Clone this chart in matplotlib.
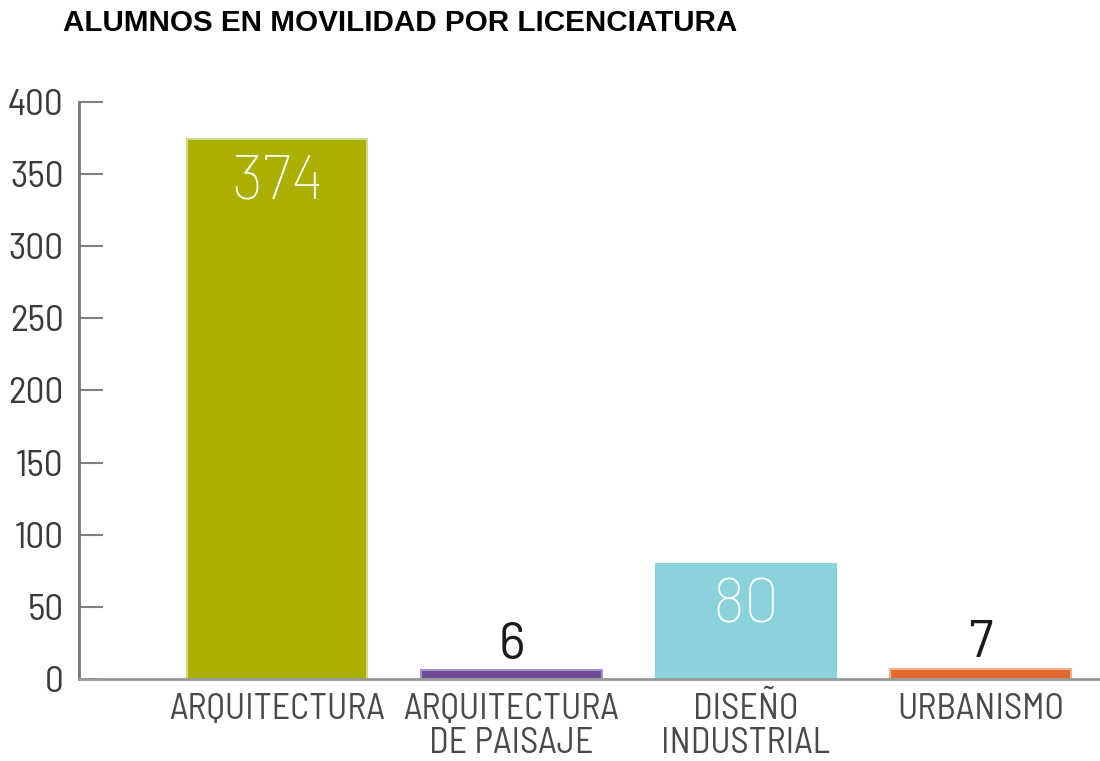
import matplotlib
matplotlib.use("Agg")
import matplotlib.pyplot as plt

categories = ["ARQUITECTURA", "ARQUITECTURA\nDE PAISAJE", "DISEÑO\nINDUSTRIAL", "URBANISMO"]
values = [374, 6, 80, 7]
colors = ["#abb000", "#6c4a98", "#8bd3da", "#e0692e"]
edges = ["#d6d98a", "#a893c6", "#8bd3da", "#f0b08c"]
label_inside = [True, False, True, False]
yticks = [0, 50, 100, 150, 200, 250, 300, 350, 400]

narrow = ["Barlow Semi Condensed", "DejaVu Sans"]
wide = ["Barlow", "Barlow Semi Condensed", "DejaVu Sans"]

fig = plt.figure(figsize=(11, 7.61), dpi=100)
ax = fig.add_axes([0.0718, 0.1078, 0.9282, 0.7582])

x = range(len(categories))
ax.bar(x, values, width=0.77, color=colors, edgecolor=edges, linewidth=1.5, zorder=2)

for i, v in enumerate(values):
    if label_inside[i]:
        ax.annotate(str(v), (i, v), xytext=(0, -11), textcoords="offset points",
                    ha="center", va="top", color="white", fontsize=45,
                    family=wide, fontweight="light")
    else:
        ax.annotate(str(v), (i, v), xytext=(0, 1), textcoords="offset points",
                    ha="center", va="bottom", color="#1a1a1a", fontsize=37,
                    family=wide)

ax.set_xlim(-0.845, 3.51)
ax.set_ylim(0, 400)
ax.set_yticks(yticks)
ax.set_xticks(list(x))
ax.set_xticklabels(categories, family=narrow, fontsize=26, color="#4a4a4a",
                   linespacing=1.05)
ax.set_yticklabels([str(t) for t in yticks], family=narrow, fontsize=27,
                   color="#3a3a3a")

ax.tick_params(axis="y", direction="in", length=17, width=1.5, color="#808080", pad=11)
ax.tick_params(axis="x", length=0, pad=10)

for side in ["top", "right"]:
    ax.spines[side].set_visible(False)
ax.spines["left"].set_color("#777777")
ax.spines["left"].set_linewidth(2)
ax.spines["bottom"].set_color("#999999")
ax.spines["bottom"].set_linewidth(2)
ax.spines["bottom"].set_zorder(3)

fig.text(0.0573, 0.97, "ALUMNOS EN MOVILIDAD POR LICENCIATURA", fontsize=21.3,
         fontweight="bold", family="Liberation Sans", ha="left", va="center", color="black")

fig.savefig("out.png", dpi=100)
